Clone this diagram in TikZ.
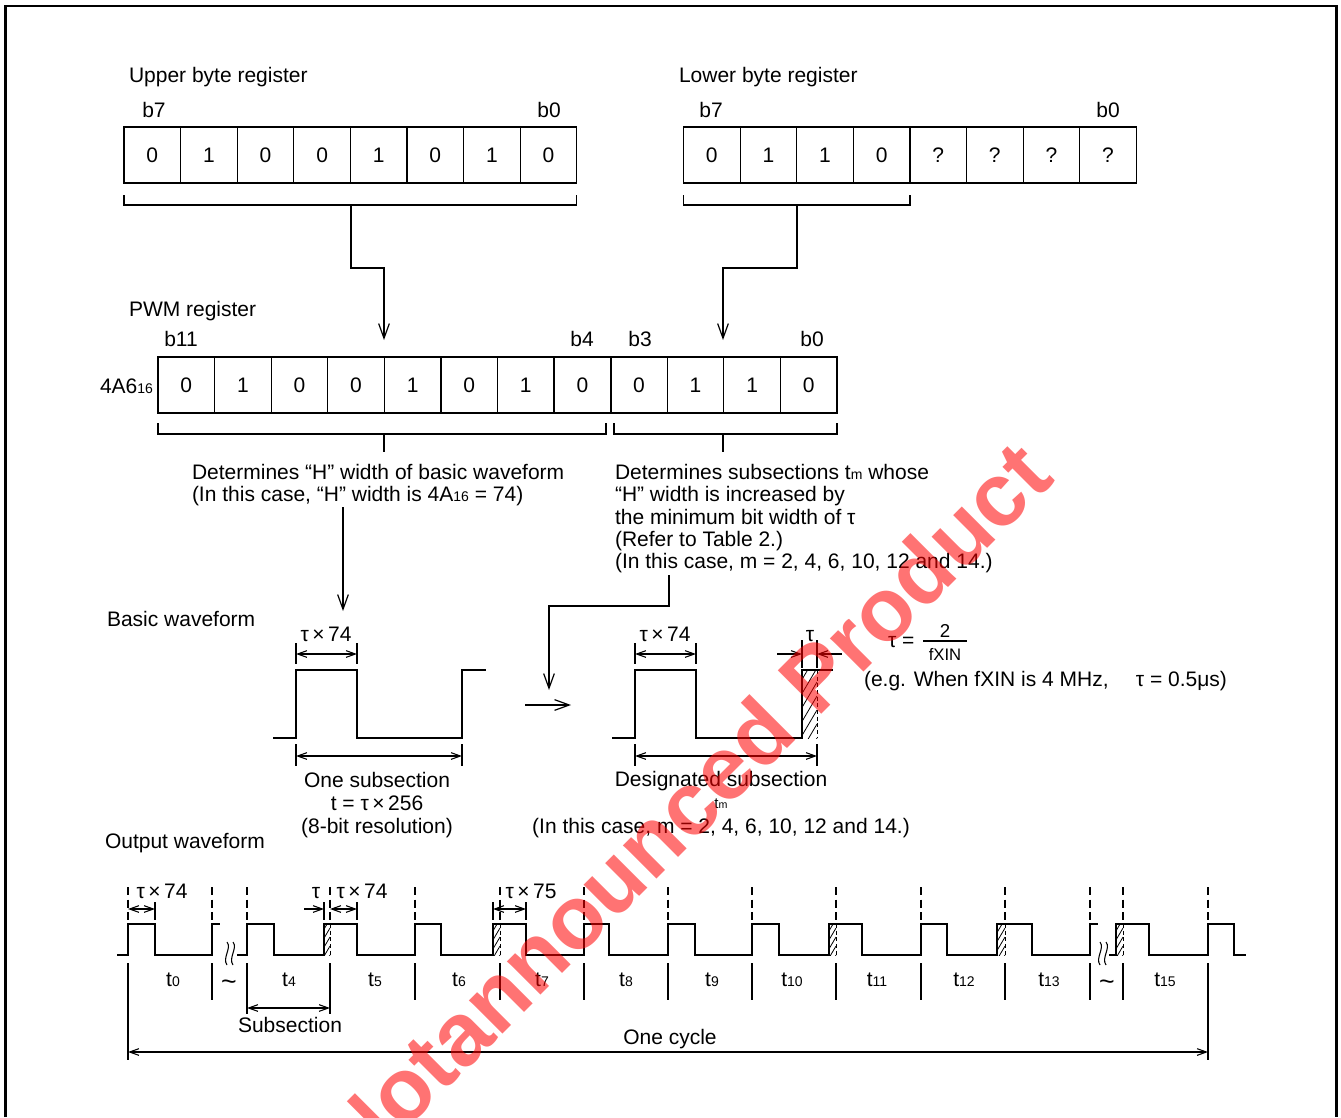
\documentclass[tikz,border=0pt]{standalone}
\usepackage{fontspec}
\setmainfont{Liberation Sans}
\usetikzlibrary{arrows.meta}
\newcommand\mysub[1]{{\fontsize{10.5pt}{10.5pt}\selectfont #1}}
\newcommand\hatchbox[5]{%
  \begin{scope}
    \clip (#1,#2) rectangle (#3,#4);
    \pgfmathsetmacro\hd{(#3-#1)*1.7}
    \foreach \k in {0,#5,...,120}{\draw[line width=0.6pt] (#1,{#4-\k+\hd}) -- (#3,{#4-\k});}
  \end{scope}}
\begin{document}
\begin{tikzpicture}[x=0.75pt,y=-0.75pt]
\tikzset{
  every node/.style={inner sep=0pt,outer sep=0pt,font=\fontsize{15.75pt}{19pt}\selectfont},
  thinln/.style={line width=0.9pt},
  wave/.style={line width=2.2pt,line join=miter},
  dim/.style={line width=0.8pt,{Straight Barb[length=7pt,width=5pt]}-{Straight Barb[length=7pt,width=5pt]}},
  dimr/.style={line width=0.8pt,-{Straight Barb[length=7pt,width=5pt]}},
  flow/.style={line width=0.9pt,-{Straight Barb[length=11pt,width=8pt]}},
  dashv/.style={line width=0.8pt,dash pattern=on 6pt off 3.5pt},
  cell/.style={draw,line width=0.9pt,minimum width=42.45pt,minimum height=42pt},
  fnumf/.style={font=\fontsize{14pt}{16pt}\selectfont},
  fdenf/.style={font=\fontsize{12.5pt}{14pt}\selectfont},
  wm/.style={text=red,text opacity=0.55,rotate=45,font=\fontsize{67pt}{67pt}\selectfont\bfseries},
}
\useasboundingbox (0,0) rectangle (1341,1117);
\fill[white] (0,0) rectangle (1341,1117);
% frame
\draw[line width=2pt] (5.5,1117) -- (5.5,6) -- (1336.5,6) -- (1336.5,1117);

% ---------- upper / lower byte registers
\node[anchor=base west] (upl) at (129,82) {Upper byte register};
\node[anchor=base west] (lol) at (679,82) {Lower byte register};
\node[anchor=base] (ub7) at (154,117) {b7};
\node[anchor=base] (ub0) at (549,117) {b0};
\node[anchor=base] (lb7) at (711,117) {b7};
\node[anchor=base] (lb0) at (1108,117) {b0};
\foreach \v [count=\i from 0] in {0,1,0,0,1,0,1,0}
  {\node[cell] (u\i) at ({124+56.6*(\i+0.5)},155) {\v};}
\foreach \v [count=\i from 0] in {0,1,1,0,?,?,?,?}
  {\node[cell] (l\i) at ({683.5+56.6*(\i+0.5)},155) {\v};}
% brackets
\draw[thinln] (124,195) -- (124,205) -- (576.8,205) -- (576.8,195);
\draw[thinln] (683.5,195) -- (683.5,205) -- (909.9,205) -- (909.9,195);
\coordinate (ubr) at (351,205);
\coordinate (lbr) at (797,205);

% ---------- PWM register
\node[anchor=base west] (pwml) at (129,316) {PWM register};
\node[anchor=base] (pb11) at (181,346) {b11};
\node[anchor=base] (pb4) at (582,346) {b4};
\node[anchor=base] (pb3) at (640,346) {b3};
\node[anchor=base] (pb0) at (812,346) {b0};
\node[anchor=base east] (hex) at (153,393) {4A6\mysub{16}};
\foreach \v [count=\i from 0] in {0,1,0,0,1,0,1,0,0,1,1,0}
  {\node[cell] (p\i) at ({158+56.58*(\i+0.5)},385) {\v};}
\draw[line width=1.6pt] (p7.north east) -- (p7.south east);
\coordinate (pin1) at (384,340);
\coordinate (pin2) at (723,340);
\draw[flow] (ubr) -- (351,268) -| (pin1);
\draw[flow] (lbr) -- (797,268) -| (pin2);
% brackets under PWM
\draw[thinln] (158,423) -- (158,434) -- (606,434) -- (606,423);
\draw[thinln] (614,423) -- (614,434) -- (837,434) -- (837,423);
\coordinate (pbl) at (384,434);
\coordinate (pbr) at (723,434);
\coordinate (pbl2) at (384,452);
\coordinate (pbr2) at (723,452);
\draw[thinln] (pbl) -- (pbl2);
\draw[thinln] (pbr) -- (pbr2);

% ---------- descriptive texts
\node[anchor=base west] (lt1) at (192,479) {Determines “H” width of basic waveform};
\node[anchor=base west] (lt2) at (192,501) {(In this case, “H” width is 4A\mysub{16} = 74)};
\node[anchor=base west] (rt1) at (615,479) {Determines subsections t\mysub{m} whose};
\node[anchor=base west] (rt2) at (615,501) {“H” width is increased by};
\node[anchor=base west] (rt3) at (615,524) {the minimum bit width of τ};
\node[anchor=base west] (rt4) at (615,546) {(Refer to Table 2.)};
\node[anchor=base west] (rt5) at (615,568) {(In this case, m = 2, 4, 6, 10, 12 and 14.)};
\coordinate (ltx) at (343,507);
\coordinate (bwin) at (343,611);
\draw[flow] (ltx) -- (bwin);
\coordinate (rtx) at (669,575);
\coordinate (dwin) at (549,690);
\draw[flow] (rtx) |- (549,606) -- (dwin);

% ---------- basic waveform
\node[anchor=base west] (bwl) at (107,626) {Basic waveform};
\node[anchor=base] (bt74) at (326,641) {τ\,×\,74};
\draw[thinln] (296,643) -- (296,664);
\draw[thinln] (357,643) -- (357,664);
\coordinate (bdl) at (296,654); \coordinate (bdr) at (357,654);
\draw[dim] (bdl) -- (bdr);
\draw[wave] (273,738) -- (296,738) -- (296,670) -- (357,670) -- (357,738) -- (462,738) -- (462,670) -- (486,670);
\draw[thinln] (296,744) -- (296,766);
\draw[thinln] (462,744) -- (462,766);
\coordinate (bsl) at (296,756); \coordinate (bsr) at (462,756);
\draw[dim] (bsl) -- (bsr);
\node[anchor=base] (os1) at (377,787) {One subsection};
\node[anchor=base] (os2) at (377,810) {t = τ\,×\,256};
\node[anchor=base] (os3) at (377,833) {(8-bit resolution)};
\coordinate (ar1) at (525,705); \coordinate (ar2) at (571,705);
\draw[flow] (ar1) -- (ar2);

% ---------- designated waveform
\node[anchor=base] (dt74) at (665,641) {τ\,×\,74};
\node[anchor=base] (dtau) at (810,641) {τ};
\draw[thinln] (635,643) -- (635,664);
\draw[thinln] (696,643) -- (696,664);
\coordinate (ddl) at (635,654); \coordinate (ddr) at (696,654);
\draw[dim] (ddl) -- (ddr);
\draw[thinln] (802,640) -- (802,668);
\draw[thinln] (817,640) -- (817,668);
\coordinate (tl0) at (777,654); \coordinate (tl1) at (802,654);
\coordinate (tr0) at (842,654); \coordinate (tr1) at (817,654);
\draw[dimr] (tl0) -- (tl1);
\draw[dimr] (tr0) -- (tr1);
\hatchbox{802}{670}{817}{738}{14}
\draw[line width=0.7pt,dash pattern=on 3pt off 2pt] (817,670) -- (817,738);
\draw[wave] (612,738) -- (635,738) -- (635,670) -- (696,670) -- (696,738) -- (802,738) -- (802,670) -- (833,670);
\draw[thinln] (635,744) -- (635,766);
\draw[thinln] (817,744) -- (817,766);
\coordinate (dsl) at (635,756); \coordinate (dsr) at (817,756);
\draw[dim] (dsl) -- (dsr);
\node[anchor=base] (ds1) at (721,786) {Designated subsection};
\node[anchor=base] (ds2) at (721,808) {{\fontsize{11.25pt}{12pt}\selectfont t}{\fontsize{8pt}{9pt}\selectfont m}};
\node[anchor=base] (ds3) at (721,833) {(In this case, m = 2, 4, 6, 10, 12 and 14.)};
% formula
\node[anchor=base west] (feq) at (888,647) {τ =};
\node[anchor=base,fnumf] (fnum) at (945,637) {2};
\draw[thinln] (923,641) -- (967,641);
\node[anchor=base,fdenf] (fden) at (945,660) {fXIN};
\node[anchor=base west] (feg) at (864,686) {(e.g. When fXIN is 4 MHz,\hspace{1.3em}τ = 0.5μs)};

% ---------- output waveform
\node[anchor=base west] (owl) at (105,848) {Output waveform};
\foreach \x in {128,212,247,330,415,500,584,668,752,836,921,1005,1090,1123,1208}
  {\draw[dashv] (\x,887) -- (\x,920);
   \draw[thinln] (\x,963) -- (\x,1000);}
\draw[thinln] (128,1000) -- (128,1060);
\draw[thinln] (1208,1000) -- (1208,1060);
\draw[thinln] (247,1000) -- (247,1014);
\draw[thinln] (330,1000) -- (330,1014);
% hatches
\foreach \a/\b in {324/330,493/500,829/836,997/1005,1116/1123}
  {\hatchbox{\a}{924}{\b}{955}{9}
   \draw[line width=0.6pt,dash pattern=on 3pt off 2pt] (\b,924) -- (\b,955);}
\draw[wave] (117,955) -- (128,955) -- (128,924) -- (155,924) -- (155,955) -- (212,955) -- (212,924) -- (220,924);
\draw[wave] (237,955) -- (247,955) -- (247,924) -- (274,924) -- (274,955) -- (324,955) -- (324,924) -- (357,924) -- (357,955)
  -- (415,955) -- (415,924) -- (441,924) -- (441,955) -- (493,955) -- (493,924) -- (526,924) -- (526,955)
  -- (584,955) -- (584,924) -- (609,924) -- (609,955) -- (668,955) -- (668,924) -- (695,924) -- (695,955)
  -- (752,955) -- (752,924) -- (779,924) -- (779,955) -- (829,955) -- (829,924) -- (862,924) -- (862,955)
  -- (921,955) -- (921,924) -- (947,924) -- (947,955) -- (997,955) -- (997,924) -- (1032,924) -- (1032,955)
  -- (1090,955) -- (1090,924) -- (1098,924);
\draw[wave] (1109,955) -- (1116,955) -- (1116,924) -- (1149,924) -- (1149,955) -- (1208,955) -- (1208,924) -- (1234,924) -- (1234,955) -- (1246,955);
% break marks
\foreach \x in {227,233,1100,1106}
  {\draw[line width=0.8pt] (\x,942) .. controls (\x+5,948) and (\x-5,958) .. (\x,965);}
% dimension labels
\node[anchor=base] (o74a) at (162,898) {τ\,×\,74};
\node[anchor=base] (otau) at (316,898) {τ};
\node[anchor=base] (o74b) at (362,898) {τ\,×\,74};
\node[anchor=base] (o75) at (531,898) {τ\,×\,75};
\foreach \x in {155,324,357,493,526}
  {\draw[thinln] (\x,902) -- (\x,920);}
\coordinate (a1) at (128,909); \coordinate (a2) at (155,909);
\draw[dim] (a1) -- (a2);
\coordinate (a3) at (304,909); \coordinate (a4) at (324,909);
\draw[dimr] (a3) -- (a4);
\coordinate (a5) at (330,909); \coordinate (a6) at (357,909);
\draw[dim] (a5) -- (a6);
\coordinate (a7) at (493,909); \coordinate (a8) at (526,909);
\draw[dim] (a7) -- (a8);
% subsection labels
\foreach \x/\n in {173/0,289/4,375/5,459/6,542/7,626/8,712/9,792/10,877/11,964/12,1049/13,1165/15}
  {\node[anchor=base] (tl\n) at (\x,986) {t\mysub{\n}};}
\node[anchor=base] (tila) at (229,990) {\fontsize{20pt}{20pt}\selectfont\textasciitilde};
\node[anchor=base] (tilb) at (1107,990) {\fontsize{20pt}{20pt}\selectfont\textasciitilde};
\coordinate (ssl) at (247,1008); \coordinate (ssr) at (330,1008);
\draw[dim] (ssl) -- (ssr);
\node[anchor=base] (ssub) at (290,1032) {Subsection};
\coordinate (cycl) at (128,1052); \coordinate (cycr) at (1208,1052);
\draw[dim] (cycl) -- (cycr);
\node[anchor=base] (ocyc) at (670,1044) {One cycle};

% ---------- watermark
\node[wm] (wm1) at (737,754) {announced Product};
\node[wm,anchor=base east] (wm0) at (wm1.base west) {Not\ };
\end{tikzpicture}
\end{document}
